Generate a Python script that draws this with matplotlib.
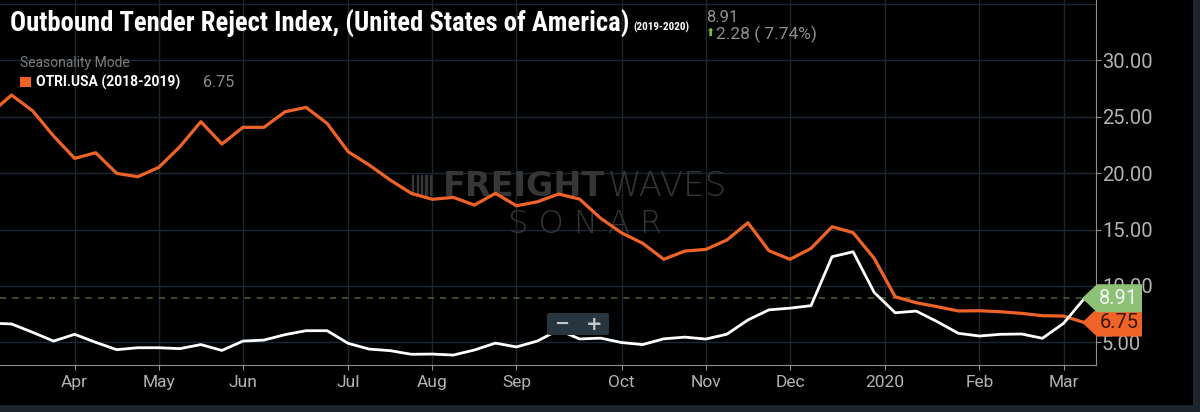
import matplotlib
matplotlib.use('Agg')
import matplotlib.pyplot as plt
import matplotlib.transforms as mtransforms
from matplotlib import font_manager
from matplotlib.patches import Rectangle, Polygon, FancyBboxPatch
import numpy as np

# weekly index (week -1 is cut off by the left edge)
weeks = list(range(-1, 52))

otri_2018_2019 = [25.3, 26.92, 25.53, 23.29, 21.31, 21.81, 19.98, 19.68, 20.51, 22.34,
                  24.56, 22.58, 24.06, 24.06, 25.44, 25.83, 24.41, 21.9, 20.72, 19.39,
                  18.21, 17.68, 17.85, 17.17, 18.21, 17.11, 17.46, 18.15, 17.7, 16.0,
                  14.7, 13.78, 12.36, 13.09, 13.24, 14.07, 15.6, 13.12, 12.36, 13.33,
                  15.25, 14.72, 12.45, 9.04, 8.51, 8.16, 7.78, 7.8, 7.71, 7.57,
                  7.36, 7.33, 6.75]
otri_2019_2020 = [6.7, 6.63, 5.89, 5.11, 5.71, 5.0, 4.35, 4.52, 4.52, 4.44,
                  4.8, 4.28, 5.11, 5.2, 5.68, 6.03, 6.03, 4.91, 4.4, 4.26,
                  3.94, 3.96, 3.87, 4.32, 4.93, 4.59, 5.12, 6.1, 5.3, 5.37,
                  4.98, 4.8, 5.31, 5.46, 5.29, 5.72, 6.98, 7.88, 8.03, 8.25,
                  12.59, 13.03, 9.43, 7.62, 7.77, 6.83, 5.8, 5.56, 5.71, 5.74,
                  5.36, 6.68, 8.91]

month_pos = [3, 7, 11, 16, 20, 24, 29, 33, 37, 41.5, 46, 50]
month_labels = ['Apr', 'May', 'Jun', 'Jul', 'Aug', 'Sep', 'Oct', 'Nov', 'Dec', '2020', 'Feb', 'Mar']
y_ticks = [5, 10, 15, 20, 25, 30]
y_grid = [5, 10, 15, 20, 25, 30, 35]

last_now = 8.91
last_prev = 6.75
change_txt = '2.28 ( 7.74%)'

ORANGE = '#ef6327'
GREEN = '#8cc176'
GRID = '#1a2631'
AXIS = '#8f8f8f'
TICKTXT = '#b3b3b3'
STRIP = '#1c252d'
MARK = '#363636'

W, H = 1200, 412


def pick(*names):
    have = {f.name for f in font_manager.fontManager.ttflist}
    for n in names:
        if n in have:
            return n
    return 'DejaVu Sans'


COND = pick('Roboto Condensed', 'Liberation Sans Narrow', 'Liberation Sans')
ROBOTO = pick('Roboto', 'DejaVu Sans')


def fx(px):
    return px / W


def fy(py):
    return 1 - py / H


fig = plt.figure(figsize=(12, 4.12), dpi=100, facecolor='black')
ax = fig.add_axes([0, fy(365), fx(1095.7), 365 / H])
ax.set_facecolor('black')

ax.set_xlim(-0.547, 51.53)
ax.set_ylim(2.99, 35.35)

# grid
for v in y_grid:
    ax.axhline(v, color=GRID, lw=1, zorder=0.5)
for p in month_pos:
    ax.axvline(p, color=GRID, lw=1, zorder=0.5)

# watermark: "WAVES" goes right after the end of "FREIGHT"
wm1 = ax.text(fx(443), fy(196), 'FREIGHT', transform=fig.transFigure, fontsize=24,
              fontweight='heavy', family='DejaVu Sans', color=MARK, zorder=1,
              va='baseline')
renderer = fig.canvas.get_renderer()
x_end = wm1.get_window_extent(renderer).x1
ax.text(x_end / W + fx(3), fy(196), 'WAVES', transform=fig.transFigure, fontsize=24.5,
        fontweight=200, family='DejaVu Sans', color=MARK, zorder=1, va='baseline')
ax.text(fx(508), fy(233), 'S O N A R', transform=fig.transFigure, fontsize=23,
        fontweight=200, family='DejaVu Sans', color=MARK, zorder=1, va='baseline')
for i in range(5):
    ax.add_patch(Rectangle((fx(412 + i * 4.5), fy(195)), fx(1.5), 20 / H,
                           transform=fig.transFigure, color=MARK, zorder=1))

ax.axhline(last_now, color='#4f6138', lw=1.1, ls=(0, (4, 4)), zorder=1.5)

ax.plot(weeks, otri_2018_2019, color=ORANGE, lw=2.3, zorder=3)
ax.plot(weeks, otri_2019_2020, color='white', lw=2.0, zorder=4)

# axes styling
for s in ['left', 'top']:
    ax.spines[s].set_visible(False)
ax.spines['right'].set_color(AXIS)
ax.spines['bottom'].set_color(AXIS)
ax.yaxis.tick_right()
ax.set_yticks(y_ticks)
ax.set_yticklabels([f'{v:.2f}' for v in y_ticks])
ax.set_xticks(month_pos)
ax.set_xticklabels(month_labels)
ax.tick_params(axis='y', colors=AXIS, labelcolor=TICKTXT, length=3.5, pad=1,
               labelsize=14.5, labelfontfamily=ROBOTO)
ax.tick_params(axis='x', colors=AXIS, labelcolor=TICKTXT, length=3.5, pad=4,
               labelsize=12.5, labelfontfamily=ROBOTO)

# value tags on the right axis (they sit over the tick labels, as in the app)
blend = mtransforms.blended_transform_factory(fig.transFigure, ax.transData)
hh = 14 / (365 / (35.35 - 2.99))
for val, fc, tc in [(last_prev, ORANGE, '#3a1508'), (last_now, GREEN, '#f4f4f4')]:
    tag = Polygon([(fx(1082), val), (fx(1097), val + hh), (fx(1142), val + hh),
                   (fx(1142), val - hh), (fx(1097), val - hh)],
                  closed=True, transform=blend, facecolor=fc, edgecolor='none',
                  zorder=6, clip_on=False)
    ax.add_patch(tag)
    ax.text(fx(1119), val, f'{val:.2f}', transform=blend, ha='center', va='center',
            fontsize=14.5, family=ROBOTO, color=tc, zorder=7, clip_on=False)

# zoom control
fig.patches.append(FancyBboxPatch((fx(547), fy(335)), fx(62), 22 / H,
                                  boxstyle='round,pad=0,rounding_size=0.003',
                                  transform=fig.transFigure, facecolor='#28353f',
                                  edgecolor='none', zorder=5))
fig.text(fx(562), fy(324), '−', ha='center', va='center', fontsize=13,
         fontweight='bold', color='#c3c9cd', zorder=6)
fig.text(fx(594), fy(324), '+', ha='center', va='center', fontsize=14,
         fontweight='bold', color='#c3c9cd', zorder=6)

# border strips
fig.patches.append(Rectangle((0, 0), 1, 7 / H, transform=fig.transFigure,
                             facecolor=STRIP, edgecolor='none', zorder=4))
fig.patches.append(Rectangle((fx(1193), 0), fx(7), 1, transform=fig.transFigure,
                             facecolor=STRIP, edgecolor='none', zorder=4))

# header texts
fig.text(fx(10), fy(32), 'Outbound Tender Reject Index, (United States of America)',
         fontsize=19.2, fontweight='bold', family=COND, color='white', va='baseline')
fig.text(fx(633), fy(31), '(2019-2020)', fontsize=8, fontweight='bold',
         family=COND, color='white', va='baseline')
fig.text(fx(706), fy(21.7), f'{last_now:.2f}', fontsize=12, family=ROBOTO,
         color='#8f8f8f', va='baseline')
fig.text(fx(709.5), fy(33), '⬆', fontsize=8, family='DejaVu Sans', color='#7bc143',
         ha='center', va='center')
fig.text(fx(716), fy(39), change_txt, fontsize=12.5, family=ROBOTO,
         color='#8f8f8f', va='baseline')
fig.text(fx(20), fy(66.7), 'Seasonality Mode', fontsize=10, family=ROBOTO,
         color='#7c7c7c', va='baseline')
fig.patches.append(Rectangle((fx(20), fy(86.7)), fx(10.5), 10 / H,
                             transform=fig.transFigure, facecolor=ORANGE,
                             edgecolor='none'))
fig.text(fx(35.7), fy(86.7), 'OTRI.USA (2018-2019)', fontsize=10, family=ROBOTO,
         fontweight='bold', color='white', va='baseline')
fig.text(fx(203), fy(87), f'{last_prev:.2f}', fontsize=11.5, family=ROBOTO,
         color='#8a8a8a', va='baseline')

fig.savefig('out.png', dpi=100, facecolor='black')
